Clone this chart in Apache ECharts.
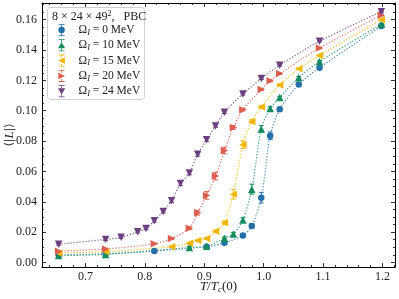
<!DOCTYPE html>
<html><head><meta charset="utf-8">
<script src="https://cdn.jsdelivr.net/npm/echarts@6/dist/echarts.min.js"></script>
<style>html,body{margin:0;padding:0;background:#fff}#c{width:399px;height:299px}</style>
</head><body><div id="c"></div>
<script>
// ---- data ----
const OMEGA = ['0', '10', '15', '20', '24'];
const T_0  = [0.655,0.734,0.816,0.904,0.934,0.965,0.980,0.996,1.011,1.027,1.059,1.094,1.198];
const L_0  = [0.0050,0.0057,0.0075,0.0104,0.0130,0.0177,0.0241,0.0427,0.0835,0.1009,0.1173,0.1284,0.1558];
const E_0  = [0.0004,0.0004,0.0005,0.0006,0.0007,0.0010,0.0014,0.0035,0.0025,0.0010,0.0008,0.0006,0.0005];
const T_10 = [0.655,0.734,0.875,0.904,0.934,0.949,0.965,0.980,0.996,1.011,1.027,1.059,1.094,1.198];
const L_10 = [0.0045,0.0053,0.0099,0.0107,0.0160,0.0188,0.0280,0.0483,0.0880,0.1015,0.1087,0.1218,0.1324,0.1570];
const E_10 = [0.0004,0.0004,0.0006,0.0006,0.0008,0.0010,0.0015,0.0033,0.0022,0.0012,0.0008,0.0007,0.0006,0.0005];
const T_15 = [0.655,0.734,0.845,0.875,0.889,0.904,0.919,0.934,0.949,0.965,0.980,0.996,1.027,1.059,1.094,1.198];
const L_15 = [0.0063,0.0070,0.0104,0.0127,0.0145,0.0158,0.0205,0.0262,0.0450,0.0776,0.0929,0.1025,0.1170,0.1276,0.1364,0.1600];
const E_15 = [0.0004,0.0004,0.0005,0.0006,0.0006,0.0007,0.0009,0.0012,0.0032,0.0025,0.0012,0.0009,0.0007,0.0006,0.0006,0.0005];
const T_20 = [0.655,0.734,0.816,0.845,0.875,0.889,0.904,0.919,0.934,0.949,0.965,0.996,1.011,1.027,1.094,1.198];
const L_20 = [0.0074,0.0089,0.0123,0.0158,0.0226,0.0328,0.0442,0.0569,0.0738,0.0890,0.1007,0.1140,0.1197,0.1245,0.1413,0.1630];
const E_20 = [0.0004,0.0005,0.0005,0.0006,0.0010,0.0016,0.0025,0.0025,0.0022,0.0012,0.0009,0.0007,0.0007,0.0006,0.0005,0.0005];
const T_24 = [0.655,0.734,0.760,0.788,0.802,0.816,0.831,0.845,0.860,0.875,0.889,0.904,0.919,0.934,0.965,0.996,1.027,1.094,1.198];
const L_24 = [0.0120,0.0152,0.0166,0.0202,0.0224,0.0275,0.0336,0.0407,0.0520,0.0590,0.0713,0.0808,0.0900,0.0990,0.1110,0.1212,0.1300,0.1458,0.1653];
const E_24 = [0.0006,0.0007,0.0007,0.0008,0.0008,0.0009,0.0010,0.0012,0.0012,0.0012,0.0012,0.0010,0.0009,0.0008,0.0007,0.0006,0.0006,0.0005,0.0005];

const X_MAJOR = [0.7, 0.8, 0.9, 1.0, 1.1, 1.2];
const Y_MAJOR = [0.00, 0.02, 0.04, 0.06, 0.08, 0.10, 0.12, 0.14, 0.16];

// ---- styling ----
const FONT = 'Liberation Serif';
const COLORS = ['#2470a8', '#178c5f', '#f2b705', '#dc5e4e', '#6b3f80'];
const SYM = [
  'circle',
  'path://M5,0 L10,9 L0,9 Z',
  'path://M0,5 L9,0 L9,10 Z',
  'path://M0,0 L9,5 L0,10 Z',
  'path://M0,0 L10,0 L5,9 Z'
];
const SYM_SIZE = [6.5, 7.5, 7.5, 7.5, 7.5];
const BAR_T = 'M1,0 H7 V0.8 H4.4 V2.8 H3.6 V0.8 H1 Z ';
const BAR_B = 'M3.6,9.2 H4.4 V11.2 H7 V12 H1 V11.2 H3.6 Z ';
const LEG_ICON = [
  'path://' + BAR_T + BAR_B + 'M0.8,6 A3.2,3.2 0 1 1 7.2,6 A3.2,3.2 0 1 1 0.8,6 Z',
  'path://' + BAR_T + BAR_B + 'M4,2.6 L7.6,9 L0.4,9 Z',
  'path://' + BAR_T + BAR_B + 'M0.6,6 L7.2,2.6 L7.2,9.4 Z',
  'path://' + BAR_T + BAR_B + 'M0.8,2.6 L7.4,6 L0.8,9.4 Z',
  'path://' + BAR_T + BAR_B + 'M0.4,3 L7.6,3 L4,9.4 Z'
];

const Ts = [T_0, T_10, T_15, T_20, T_24];
const Ls = [L_0, L_10, L_15, L_20, L_24];
const Es = [E_0, E_10, E_15, E_20, E_24];

function range(a, b, s) { const r = []; for (let v = a; v <= b + 1e-9; v += s) r.push(+v.toFixed(4)); return r; }
const X_MINOR = range(0.64, 1.22, 0.02).filter(v => !X_MAJOR.some(m => Math.abs(m - v) < 1e-6));
const Y_MINOR = range(0.0, 0.17, 0.005).filter(v => !Y_MAJOR.some(m => Math.abs(m - v) < 1e-6));

const XMIN = 0.627, XMAX = 1.221, YMIN = -0.003, YMAX = 0.171;

const names = OMEGA.map(o => 'Ω_I = ' + o + ' MeV');

const series = [];
OMEGA.forEach((o, k) => {
  const pts = Ts[k].map((t, i) => [t, Ls[k][i]]);
  const err = Ts[k].map((t, i) => [t, Ls[k][i], Es[k][i]]);
  const col = COLORS[k];
  series.push({
    type: 'custom', name: 'err' + k, xAxisIndex: 0, yAxisIndex: 0, z: 3,
    data: err, silent: true,
    renderItem: function (params, api) {
      const x = api.value(0), y = api.value(1), e = api.value(2);
      const a = api.coord([x, y + e]), b = api.coord([x, y - e]);
      const w = 2.5, st = { stroke: col, lineWidth: 1 };
      return { type: 'group', children: [
        { type: 'line', shape: { x1: a[0], y1: a[1], x2: b[0], y2: b[1] }, style: st },
        { type: 'line', shape: { x1: a[0] - w, y1: a[1], x2: a[0] + w, y2: a[1] }, style: st },
        { type: 'line', shape: { x1: b[0] - w, y1: b[1], x2: b[0] + w, y2: b[1] }, style: st }
      ]};
    }
  });
  series.push({
    type: 'line', name: names[k], xAxisIndex: 0, yAxisIndex: 0, z: 4,
    data: pts, smooth: 0.3,
    symbol: SYM[k], symbolSize: SYM_SIZE[k], showSymbol: true,
    itemStyle: { color: col, borderWidth: 0 },
    lineStyle: { color: col, width: 1.2, type: [1.2, 1.8], opacity: 0.85 },
    emphasis: { disabled: true }
  });
});

function xAxisDef(pos, vals, len, labels, main) {
  return {
    type: 'value', position: pos, min: XMIN, max: XMAX, gridIndex: 0,
    axisLine: { show: main, onZero: false, lineStyle: { color: '#000', width: 1 } },
    axisTick: { show: true, inside: true, length: len, customValues: vals, lineStyle: { color: '#000', width: 0.8 } },
    axisLabel: labels ? { show: true, customValues: vals, formatter: v => v.toFixed(1), margin: 4,
      fontFamily: FONT, fontSize: 12, color: '#222' } : { show: false },
    splitLine: { show: false }
  };
}
function yAxisDef(pos, vals, len, labels, main) {
  return {
    type: 'value', position: pos, min: YMIN, max: YMAX, gridIndex: 0,
    axisLine: { show: main, onZero: false, lineStyle: { color: '#000', width: 1 } },
    axisTick: { show: true, inside: true, length: len, customValues: vals, lineStyle: { color: '#000', width: 0.8 } },
    axisLabel: labels ? { show: true, customValues: vals, formatter: v => v.toFixed(2), margin: 5,
      fontFamily: FONT, fontSize: 12, color: '#222' } : { show: false },
    splitLine: { show: false }
  };
}

const xMain = xAxisDef('bottom', X_MAJOR, 4, true, true);
xMain.name = '{i|T}{n|/}{i|T}{s|c}{n|(0)}';
xMain.nameLocation = 'middle';
xMain.nameGap = 12;
xMain.nameMoveOverlap = false;
xMain.nameTextStyle = { fontFamily: FONT, fontSize: 13, color: '#222', verticalAlign: 'top', lineHeight: 15,
  rich: { i: { fontStyle: 'italic', fontFamily: FONT, fontSize: 13, lineHeight: 15 },
          n: { fontFamily: FONT, fontSize: 13, lineHeight: 15 },
          s: { fontStyle: 'italic', fontFamily: FONT, fontSize: 9, lineHeight: 15, verticalAlign: 'bottom', padding: [3, 0, 0, 0] } } };

const yMain = yAxisDef('left', Y_MAJOR, 4, true, true);
yMain.name = '{n|⟨|}{i|L}{n||⟩}';
yMain.nameLocation = 'middle';
yMain.nameRotate = 90;
yMain.nameGap = 26;
yMain.nameMoveOverlap = false;
yMain.nameTextStyle = { fontFamily: FONT, fontSize: 13, color: '#222',
  rich: { i: { fontStyle: 'italic', fontFamily: FONT, fontSize: 13 }, n: { fontFamily: 'DejaVu Serif', fontSize: 11 } } };

const option = {
  animation: false,
  backgroundColor: '#fff',
  grid: { left: 42, right: 4, top: 3, bottom: 32, containLabel: false, outerBoundsMode: 'none' },
  xAxis: [
    xMain,
    xAxisDef('bottom', X_MINOR, 2, false, false),
    xAxisDef('top', X_MAJOR, 4, false, true),
    xAxisDef('top', X_MINOR, 2, false, false)
  ],
  yAxis: [
    yMain,
    yAxisDef('left', Y_MINOR, 2, false, false),
    yAxisDef('right', Y_MAJOR, 4, false, true),
    yAxisDef('right', Y_MINOR, 2, false, false)
  ],
  legend: {
    orient: 'vertical', left: 58, top: 24, padding: 0, itemGap: 2.3,
    itemWidth: 8, itemHeight: 12,
    data: names.map((n, k) => ({ name: n, icon: LEG_ICON[k] })),
    formatter: function (name) {
      const k = names.indexOf(name);
      return '{o|Ω}{s|I}{n| = ' + OMEGA[k] + ' MeV}';
    },
    textStyle: {
      fontFamily: FONT, fontSize: 11.5, color: '#222', padding: [0, 0, 0, 8],
      rich: {
        o: { fontFamily: FONT, fontSize: 11.5 },
        s: { fontFamily: FONT, fontStyle: 'italic', fontSize: 8.5, verticalAlign: 'bottom', padding: [5, 0, 0, 0] },
        n: { fontFamily: FONT, fontSize: 11.5 }
      }
    },
    selectedMode: false
  },
  graphic: [
    { type: 'rect', left: 47, top: 7, z: 0, shape: { width: 97, height: 92, r: 3 },
      style: { fill: 'rgba(255,255,255,0.85)', stroke: '#cfcfcf', lineWidth: 1 } },
    { type: 'text', left: 52, top: 10, z: 1,
      style: { text: '{a|8 × 24 × 49}{b|2}{a|,   PBC}', fontFamily: FONT, fontSize: 12, fill: '#222',
        rich: { a: { fontFamily: FONT, fontSize: 12 }, b: { fontFamily: FONT, fontSize: 8, verticalAlign: 'top', padding: [0, 0, 5, 0] } } } }
  ],
  series: series
};

const chart = echarts.init(document.getElementById('c'), null, { renderer: 'canvas' });
chart.setOption(option);
</script>
</body></html>
